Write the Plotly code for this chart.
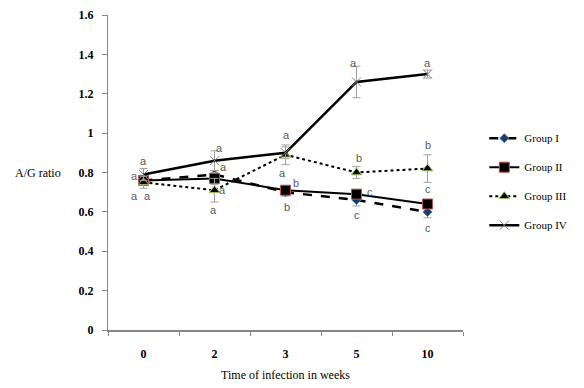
import plotly.graph_objects as go

weeks = ["0", "2", "3", "5", "10"]
group_names = ["Group I", "Group II", "Group III", "Group IV"]
g1 = [0.76, 0.79, 0.70, 0.66, 0.60]
e1 = [0.02, 0.02, 0.02, 0.03, 0.03]
g2 = [0.76, 0.77, 0.71, 0.69, 0.64]
e2 = [0.02, 0.03, 0.02, 0.02, 0.02]
g3 = [0.75, 0.71, 0.89, 0.80, 0.82]
e3 = [0.03, 0.06, 0.05, 0.03, 0.07]
g4 = [0.79, 0.86, 0.90, 1.26, 1.30]
e4 = [0.03, 0.05, 0.03, 0.08, 0.02]

# significance letters: week, y position, letter, horizontal offset (px)
lab_week = ["0", "0", "0", "0", "2", "2", "2", "2", "3", "3", "3", "3",
            "5", "5", "5", "5", "10", "10", "10", "10"]
lab_y = [0.86, 0.78, 0.68, 0.68, 0.925, 0.83, 0.71, 0.61, 0.99, 0.80, 0.745, 0.625,
         1.356, 0.875, 0.70, 0.585, 1.356, 0.94, 0.715, 0.52]
lab_txt = ["a", "a", "a", "a", "a", "a", "a", "a", "a", "a", "b", "b",
           "a", "b", "c", "c", "a", "b", "c", "c"]
lab_dx = [0, -9, -9, 4, 5, 9, 8, -1, 1, -3, 10, 1,
          -3, 2, 13, 0, 0, 0, 0, 0]

SERIF = '"Liberation Serif", "Times New Roman", serif'
xpos = list(range(len(weeks)))

series = [
    (g1, e1, dict(dash="dash", width=2.5), dict(symbol="diamond", size=7, color="#1f3864", line=dict(color="#4f81bd", width=1))),
    (g2, e2, dict(dash="solid", width=2), dict(symbol="square", size=10, color="black", line=dict(color="#c0504d", width=1))),
    (g3, e3, dict(dash="dot", width=2), dict(symbol="triangle-up", size=9, color="black", line=dict(color="#9bbb59", width=1))),
    (g4, e4, dict(dash="solid", width=2.5), dict(symbol="x-thin-open", size=9, color="#7f7f7f", line=dict(color="#7f7f7f", width=1))),
]

fig = go.Figure()
for name, (vals, errs, ln, mk) in zip(group_names, series):
    fig.add_trace(go.Scatter(
        x=xpos, y=vals, name=name, mode="lines+markers",
        line=dict(color="black", **ln), marker=mk, legendgroup=name,
        error_y=dict(type="data", array=errs, color="#a0a0a0", thickness=1, width=4),
    ))

for w, y, t, dx in zip(lab_week, lab_y, lab_txt, lab_dx):
    fig.add_annotation(x=weeks.index(w), y=y, text=t, showarrow=False, xshift=dx,
                       font=dict(family="Liberation Sans, Arial, sans-serif", size=11, color="#595959"))

fig.add_annotation(xref="paper", yref="y", x=-0.128, y=0.8, xanchor="right", text="A/G ratio",
                   showarrow=False, font=dict(family=SERIF, size=12, color="black"))

fig.update_layout(
    width=584, height=388, margin=dict(l=108, r=116, t=15, b=58),
    paper_bgcolor="white", plot_bgcolor="white",
    font=dict(family=SERIF, size=11, color="black"),
    showlegend=True,
    legend=dict(x=1.06, y=0.655, xanchor="left", yanchor="top", tracegroupgap=10,
                itemwidth=30, font=dict(family=SERIF, size=11, color="black"),
                bgcolor="rgba(0,0,0,0)"),
    xaxis=dict(range=[-0.5, len(weeks) - 0.5], tickvals=xpos, ticktext=weeks, ticks="",
               showline=True, linecolor="#868686", linewidth=2, showgrid=False, zeroline=False,
               ticklabelstandoff=12, automargin=False,
               minor=dict(tickvals=[i - 0.5 for i in range(len(weeks) + 1)], ticks="outside",
                          ticklen=4, tickcolor="#868686", showgrid=False),
               tickfont=dict(family=SERIF, size=12, color="black", weight="bold"),
               title=dict(text="Time of infection in weeks", font=dict(family=SERIF, size=12), standoff=10)),
    yaxis=dict(range=[0, 1.6], tickvals=[0, 0.2, 0.4, 0.6, 0.8, 1, 1.2, 1.4, 1.6],
               ticktext=["0", "0.2", "0.4", "0.6", "0.8", "1", "1.2", "1.4", "1.6"],
               showline=True, linecolor="#868686", linewidth=1, ticks="outside", ticklen=5,
               tickcolor="#868686", showgrid=False, zeroline=False, ticklabelstandoff=6,
               automargin=False,
               tickfont=dict(family=SERIF, size=12, color="black", weight="bold")),
)

fig.write_html("out.html")
